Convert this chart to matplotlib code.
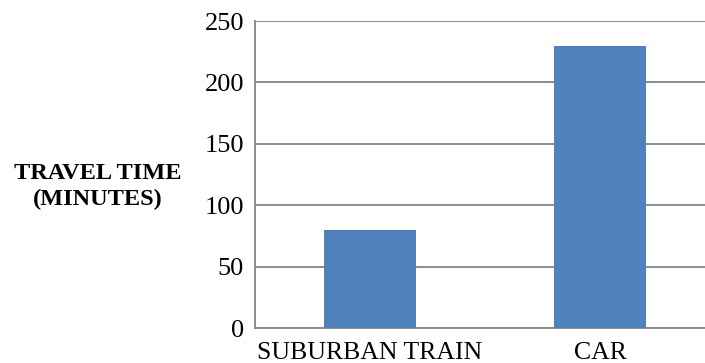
import matplotlib.pyplot as plt

modes = ['SUBURBAN TRAIN', 'CAR']
minutes = [80, 230]
yticks = [0, 50, 100, 150, 200, 250]

plt.rcParams['font.family'] = ['Liberation Serif', 'DejaVu Serif']

fig = plt.figure(figsize=(7.05, 3.63), dpi=100)
# plot area runs slightly past the right edge of the figure
ax = fig.add_axes([0.3617, 0.0964, 0.6525, 0.8457])

grid_c = '#8c8c8c'
ax.bar(range(len(modes)), minutes, width=0.40, color='#4f81bd', zorder=3)

ax.set_xlim(-0.5, len(modes) - 0.5)
ax.set_ylim(0, 250)
ax.set_yticks(yticks)
ax.set_xticks(range(len(modes)))
ax.set_xticklabels(modes)
ax.yaxis.grid(True, color=grid_c, linewidth=1.4, zorder=0)
ax.tick_params(axis='y', length=0, labelsize=19, colors='black', pad=8)
ax.tick_params(axis='x', length=0, labelsize=18.5, colors='black', pad=10)

for s in ['top', 'right']:
    ax.spines[s].set_visible(False)
for s in ['left', 'bottom']:
    ax.spines[s].set_color(grid_c)
    ax.spines[s].set_linewidth(1.4)

fig.text(0.138, 0.486, 'TRAVEL TIME\n(MINUTES)', ha='center', va='center',
         fontsize=17.5, fontweight='bold', linespacing=1.3)

fig.savefig('out.png', dpi=100)
